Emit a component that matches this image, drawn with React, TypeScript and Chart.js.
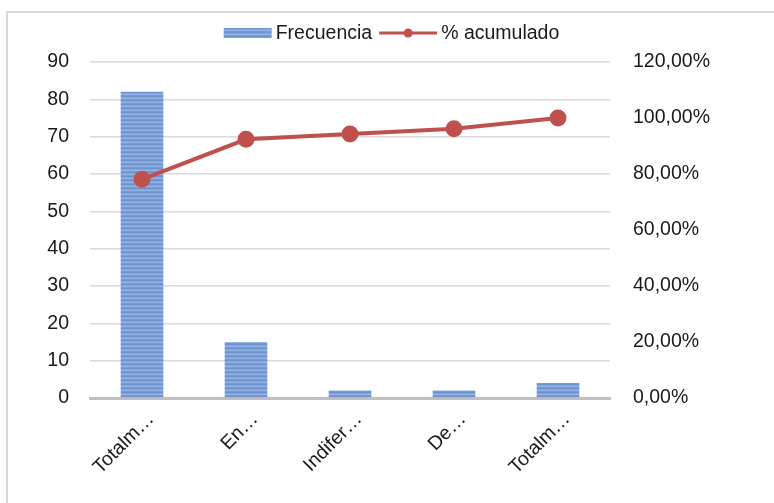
import React, { useEffect, useRef } from "react";
import { Chart, registerables } from "chart.js";

Chart.register(...registerables);

const categories = ["Totalm…", "En…", "Indifer…", "De…", "Totalm…"];
const frecuencia = [82, 15, 2, 2, 4];
const acumulado = [0.781, 0.924, 0.943, 0.962, 1.0];
const leftTicks = { min: 0, max: 90, step: 10 };
const rightTicks = { min: 0, max: 1.2, step: 0.2 };
const legendLabels = ["Frecuencia", "% acumulado"];

const RED = "#c0504d";
const FONT_FAMILY = "'Liberation Sans', Arial, sans-serif";
const FONT_SIZE = 19.5;

function makePattern(): CanvasPattern | string {
  const c = document.createElement("canvas");
  c.width = 4;
  c.height = 4;
  const g = c.getContext("2d");
  if (!g) return "#7a9fd8";
  const rows = ["#6d94d1", "#82a6dc", "#95b4e3", "#7599d5"];
  rows.forEach((col, i) => {
    g.fillStyle = col;
    g.fillRect(0, i, 4, 1);
  });
  const p = g.createPattern(c, "repeat");
  return p || "#7a9fd8";
}

export default function App() {
  const ref = useRef<HTMLCanvasElement>(null);
  useEffect(() => {
    if (!ref.current) return;
    const pattern = makePattern();
    const font = { family: FONT_FAMILY, size: FONT_SIZE };
    const chart = new Chart(ref.current, {
      data: {
        labels: categories,
        datasets: [
          {
            type: "line",
            label: legendLabels[1],
            data: acumulado,
            yAxisID: "y1",
            borderColor: RED,
            backgroundColor: RED,
            borderWidth: 4,
            pointRadius: 6.5,
            pointBackgroundColor: RED,
            pointBorderColor: RED,
            tension: 0,
            order: 0,
          },
          {
            type: "bar",
            label: legendLabels[0],
            data: frecuencia,
            yAxisID: "y",
            backgroundColor: pattern as any,
            borderWidth: 0,
            categoryPercentage: 1,
            barPercentage: 0.41,
            order: 1,
          },
        ],
      },
      options: {
        responsive: false,
        animation: false,
        layout: { padding: { top: 62, left: 0, right: 0, bottom: 0 } },
        plugins: {
          tooltip: { enabled: false },
          legend: { display: false },
        },
        scales: {
          x: {
            grid: { display: false, drawTicks: false },
            border: { display: true, color: "#bfbfbf", width: 3 },
            ticks: {
              font,
              color: "#1a1a1a",
              maxRotation: 45,
              minRotation: 45,
              padding: 10,
              labelOffset: 9,
              autoSkip: false,
            },
            afterFit: (s: any) => {
              s.height = 105;
            },
          },
          y: {
            position: "left",
            min: leftTicks.min,
            max: leftTicks.max,
            ticks: { stepSize: leftTicks.step, font, color: "#1a1a1a", padding: 21 },
            grid: { color: "#d9d9d9", lineWidth: 1.5, drawTicks: false },
            border: { display: false },
            afterFit: (s: any) => {
              s.width = 90;
            },
          },
          y1: {
            position: "right",
            min: rightTicks.min,
            max: rightTicks.max,
            ticks: {
              stepSize: rightTicks.step,
              font,
              color: "#1a1a1a",
              padding: 23,
              callback: (v: any) => (Number(v) * 100).toFixed(2).replace(".", ",") + "%",
            },
            grid: { display: false, drawTicks: false },
            border: { display: false },
            afterFit: (s: any) => {
              s.width = 164;
            },
          },
        },
      },
      plugins: [
        {
          id: "customLegend",
          afterDraw: (ch: any) => {
            const ctx = ch.ctx as CanvasRenderingContext2D;
            ctx.save();
            ctx.font = `${FONT_SIZE}px ${FONT_FAMILY}`;
            ctx.textBaseline = "middle";
            ctx.textAlign = "left";
            const w0 = ctx.measureText(legendLabels[0]).width;
            const w1 = ctx.measureText(legendLabels[1]).width;
            const boxW = 48;
            const lineW = 58;
            const gapText = 4;
            const gapItems = 7;
            const total = boxW + gapText + w0 + gapItems + lineW + gapText + w1;
            let x = 391.5 - total / 2;
            const cy = 33;
            ctx.fillStyle = pattern as any;
            ctx.fillRect(x, cy - 5, boxW, 10);
            x += boxW + gapText;
            ctx.fillStyle = "#1a1a1a";
            ctx.fillText(legendLabels[0], x, cy + 1);
            x += w0 + gapItems;
            ctx.strokeStyle = RED;
            ctx.lineWidth = 3;
            ctx.beginPath();
            ctx.moveTo(x, cy);
            ctx.lineTo(x + lineW, cy);
            ctx.stroke();
            ctx.fillStyle = RED;
            ctx.beginPath();
            ctx.arc(x + lineW / 2, cy, 4.5, 0, Math.PI * 2);
            ctx.fill();
            x += lineW + gapText;
            ctx.fillStyle = "#1a1a1a";
            ctx.fillText(legendLabels[1], x, cy + 1);
            ctx.restore();
          },
        },
      ],
    } as any);
    return () => chart.destroy();
  }, []);
  return (
    <div style={{ position: "fixed", left: 0, top: 0, width: 774, height: 503, background: "#fff" }}>
      <div
        style={{
          position: "absolute",
          left: 6,
          top: 11,
          width: 800,
          height: 600,
          borderLeft: "2px solid #d9d9d9",
          borderTop: "2px solid #d9d9d9",
          boxSizing: "border-box",
        }}
      />
      <canvas ref={ref} width={774} height={503} style={{ position: "absolute", left: 0, top: 0 }} />
    </div>
  );
}
